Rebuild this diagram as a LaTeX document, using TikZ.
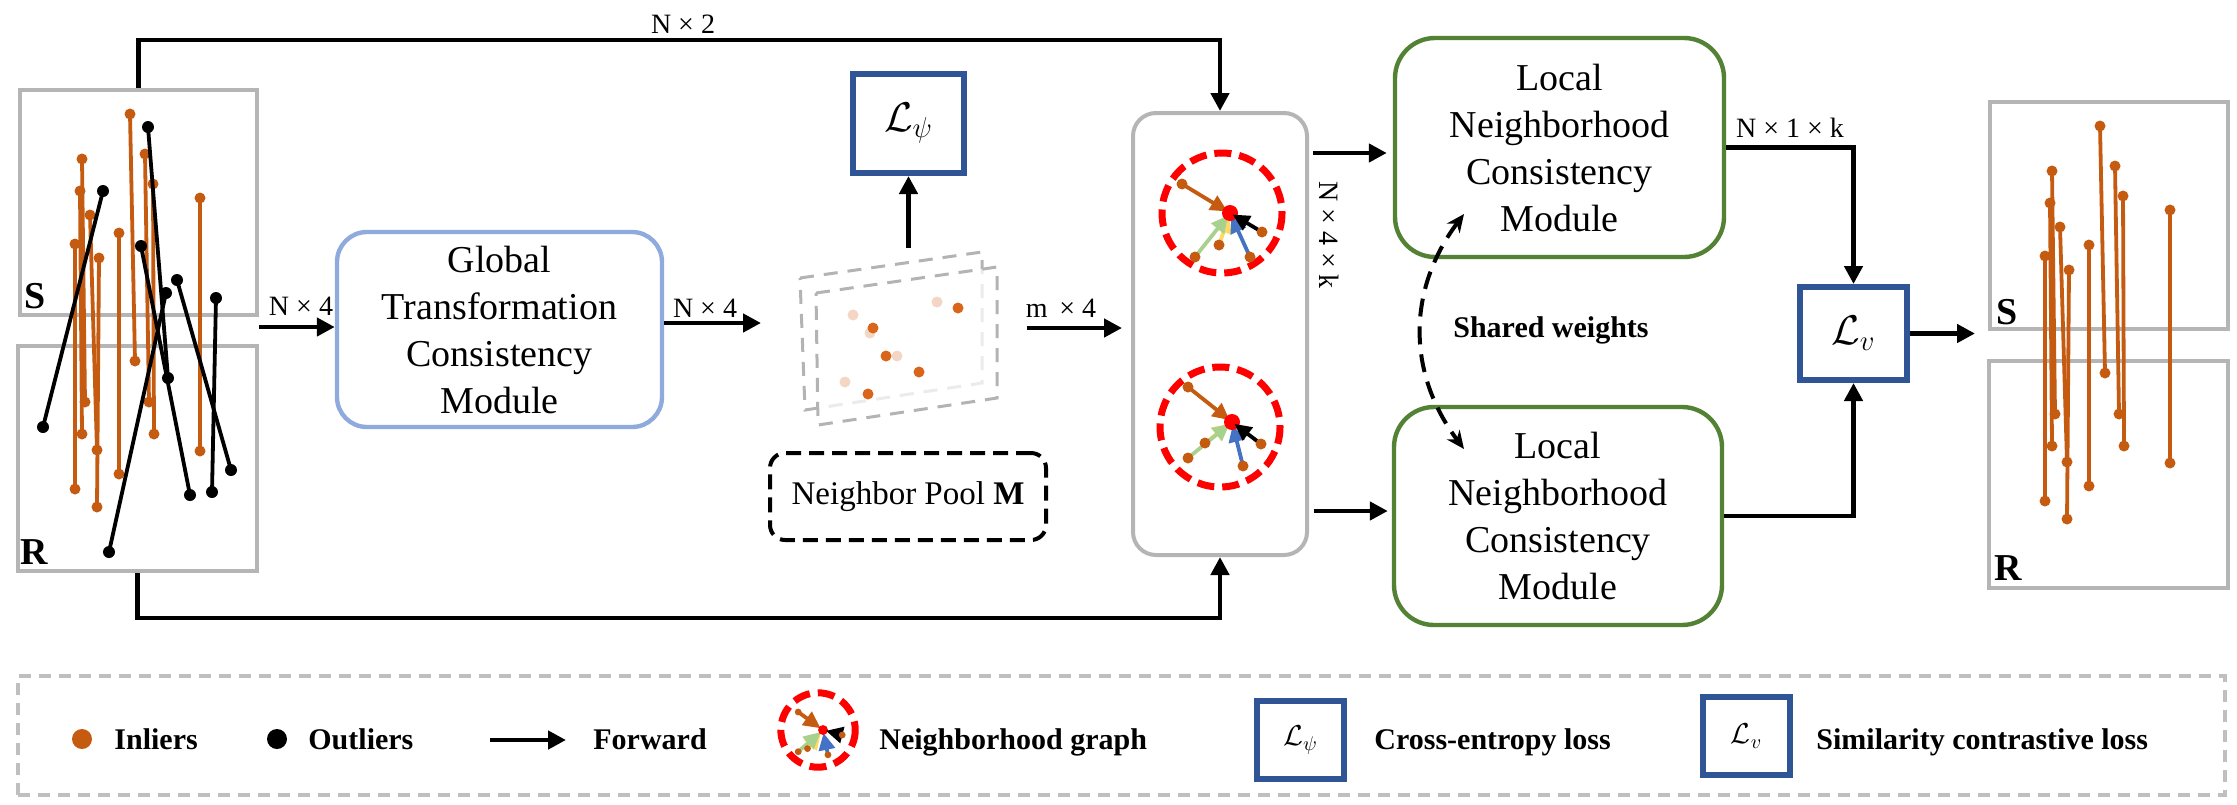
\documentclass[tikz,border=0pt]{standalone}
\usepackage{fontspec}
\setmainfont{Liberation Serif}
\usetikzlibrary{arrows.meta,calc}
\definecolor{inl}{HTML}{C55A11}
\definecolor{pgray}{HTML}{B5B5B5}
\definecolor{lgray}{HTML}{BFBFBF}
\definecolor{lblue}{HTML}{2F5597}
\definecolor{gtcblue}{HTML}{8FAADC}
\definecolor{lgreen}{HTML}{548235}
\definecolor{agreen}{HTML}{A9D18E}
\definecolor{ayellow}{HTML}{FFD966}
\definecolor{ablue}{HTML}{4472C4}
\definecolor{poolor}{HTML}{D9651A}
\definecolor{poollt}{HTML}{F4D6C4}
\definecolor{planec}{HTML}{B3B3B3}

% neighbourhood graph: #1 orange, #2 green, #3 yellow, #4 blue, #5 black, #6 ring centre
\newcommand{\nbgdraw}[6]{%
  \draw[red, line width=3.5pt, dash pattern=on 8.5pt off 4pt] (#6) circle[radius=60];
  \draw[ga, ayellow] (#3) -- (0,0);
  \draw[ga, agreen] (#2) -- (0,0);
  \draw[ga, ablue] (#4) -- (0,0);
  \draw[ga, inl] (#1) -- (0,0);
  \fill[red] (0,0) circle[radius=8];
  \draw[ga, black] (#5) -- (0,0);
  \fill[inl] (#1) circle[radius=5.5];
  \fill[inl] (#2) circle[radius=5.5];
  \fill[inl] (#3) circle[radius=5.5];
  \fill[inl] (#4) circle[radius=5.5];
  \fill[inl] (#5) circle[radius=5.5];
}
\newcommand{\inlierset}{%
  \foreach \a/\b/\c/\d in {110/24/115/271, 62/69/65/312, 60/101/62/344, 70/125/77/360,
      55/154/55/399, 79/168/77/417, 99/143/99/384, 125/64/129/312, 133/94/134/344, 180/108/180/361}{
    \draw[inline] (\a,\b) -- (\c,\d);
    \fill[inl] (\a,\b) circle[radius=5.5];
    \fill[inl] (\c,\d) circle[radius=5.5];
  }%
}

\begin{document}
\begin{tikzpicture}[x=0.5pt,y=-0.5pt,
  conn/.style={line width=2.4pt,-{Triangle[length=9pt,width=9pt]}},
  ga/.style={line width=1.9pt,-{Triangle[length=8.5pt,width=8pt]},shorten >=1.5pt},
  inline/.style={inl,line width=1.9pt},
  outline/.style={black,line width=1.9pt},
  panel/.style={draw=pgray,line width=2.3pt,inner sep=0pt},
  mod/.style={draw,line width=2.2pt,align=center,inner sep=0pt,font=\fontsize{19}{23.5}\selectfont},
  lbox/.style={draw=lblue,line width=3pt,inner sep=0pt},
  dimlbl/.style={font=\fontsize{14}{16}\selectfont,inner sep=0pt},
  pl/.style={font=\bfseries\fontsize{19}{22}\selectfont,inner sep=0pt,anchor=base west},
  legtxt/.style={font=\bfseries\fontsize{15}{18}\selectfont,inner sep=0pt,anchor=base west},
  plane/.style={draw=planec,line width=1.5pt,dash pattern=on 7pt off 5pt}
]
\useasboundingbox (0,0) rectangle (2237,804);

% ---------- left panels ----------
\node[panel,minimum width=118.5pt,minimum height=112.5pt] (lS) at (138.5,202.5) {};
\node[panel,minimum width=119.5pt,minimum height=112.5pt] (lR) at (137.5,458.5) {};
\node[pl] (lSt) at ($(lS.south west)+(6,-9)$) {S};
\node[pl] (lRt) at ($(lR.south west)+(4,-9)$) {R};
\begin{scope}[shift={(20,90)}]
  \inlierset
\end{scope}
\foreach \a/\b/\c/\d in {148/127/168/378, 103/191/43/427, 141/246/190/495,
    166/293/109/552, 177/280/231/470, 216/298/212/492}{
  \draw[outline] (\a,\b) -- (\c,\d);
  \fill (\a,\b) circle[radius=6];
  \fill (\c,\d) circle[radius=6];
}

% ---------- right panels ----------
\node[panel,minimum width=119pt,minimum height=113.5pt] (rS) at (2109,215.5) {};
\node[panel,minimum width=119.5pt,minimum height=113.5pt] (rR) at (2108.5,474.5) {};
\node[pl] (rSt) at ($(rS.south west)+(8,-7)$) {S};
\node[pl] (rRt) at ($(rR.south west)+(7,-10)$) {R};
\begin{scope}[shift={(1990,102)}]
  \inlierset
\end{scope}

% ---------- GTC module ----------
\node[mod,draw=gtcblue,rounded corners=15pt,minimum width=162.5pt,minimum height=97.5pt] (gtcm) at (499.5,329.5)
  {Global\\Transformation\\Consistency\\Module};

% ---------- neighbour pool ----------
\draw[plane] (800,278) -- (982,252) -- (982,383) -- (805,410) -- cycle;
\draw[plane,fill=white,fill opacity=0.75] (816,293) -- (997,267) -- (997,398) -- (818,425) -- cycle;
\foreach \p in {(937,302),(853,315),(870,333),(897,356),(845,382)} \fill[poollt] \p circle[radius=5.5];
\foreach \p in {(958,308),(873,328),(886,356),(919,372),(868,394)} \fill[poolor] \p circle[radius=5.5];
\node[draw,line width=2pt,dash pattern=on 7.5pt off 4pt,rounded corners=7.5pt,minimum width=138pt,minimum height=43.5pt,
  inner sep=0pt,font=\fontsize{16.5}{20}\selectfont] (poolbox) at (908,496.5) {Neighbor Pool \textbf{M}};
\node[lbox,minimum width=55.5pt,minimum height=49.5pt,font=\fontsize{20}{24}\selectfont] (lpsi) at (908.5,123.5) {$\mathcal{L}_\psi$};

% ---------- middle graph box ----------
\node[draw=pgray,rounded corners=11.5pt,line width=2pt,minimum width=87pt,minimum height=221pt,inner sep=0pt] (mid) at (1220,334) {};
\begin{scope}[shift={(1230,213)}]
  \nbgdraw{-48,-29}{-35,44}{-11,32}{20,44}{32,19}{-8,0}
\end{scope}
\begin{scope}[shift={(1232,422)}]
  \nbgdraw{-44,-35}{-44,36}{-27,21}{11,44}{29,22}{-12,5}
\end{scope}
\node[dimlbl,rotate=-90] (n4k) at (1329,235) {N × 4 × k};

% ---------- local modules ----------
\node[mod,draw=lgreen,rounded corners=20pt,minimum width=164.5pt,minimum height=109.5pt] (lnc1) at (1559.5,147.5)
  {Local\\Neighborhood\\Consistency\\Module};
\node[mod,draw=lgreen,rounded corners=20pt,minimum width=164pt,minimum height=109pt] (lnc2) at (1558,516)
  {Local\\Neighborhood\\Consistency\\Module};
\node[lbox,minimum width=53.5pt,minimum height=46.5pt,font=\fontsize{20}{24}\selectfont] (lv) at (1853.5,333.5) {$\mathcal{L}_v$};

% ---------- connectors ----------
\coordinate (topL) at (138.5,40);
\coordinate (botL) at (137.5,618);
\draw[conn] (lS.north) -- (topL) -| (mid.north);
\draw[conn] (lR.south) -- (botL) -| (mid.south);
\node[dimlbl,anchor=base] (n2) at (683,33) {N × 2};

\coordinate (pin) at (259,327);
\draw[conn] (pin) -- (pin -| gtcm.west);
\node[dimlbl,anchor=base] (n4a) at (301,315) {N × 4};

\coordinate (poolin) at (761,323);
\draw[conn] (poolin -| gtcm.east) -- (poolin);
\node[dimlbl,anchor=base] (n4b) at (705,317) {N × 4};

\coordinate (poolout) at (1027,328);
\draw[conn,shorten >=4.5pt] (poolout) -- (poolout -| mid.west);
\node[dimlbl,anchor=base] (m4) at (1061,317) {m\, × 4};

\coordinate (pooltop) at (908.5,248);
\draw[conn] (pooltop) -- (lpsi.south);

\coordinate (m1) at (1313,153);
\coordinate (m2) at (1314,511);
\draw[conn,shorten >=3pt] (m1) -- (m1 -| lnc1.west);
\draw[conn,shorten >=2pt] (m2) -- (m2 -| lnc2.west);

\draw[conn] (lnc1.east) -| (lv.north);
\draw[conn] (lnc2.east) -| (lv.south);
\node[dimlbl,anchor=base] (n1k) at (1790,137) {N × 1 × k};

\coordinate (rin) at (1975,333.5);
\draw[conn] (lv.east) -- (rin);

\coordinate (sw1) at (1464,214);
\coordinate (sw2) at (1464,449);
\draw[line width=2pt,dash pattern=on 9pt off 5pt,{Stealth[length=9pt,width=8pt]}-{Stealth[length=9pt,width=8pt]}]
  (sw1) .. controls (1407,290) and (1407,373) .. (sw2);
\node[font=\bfseries\fontsize{15}{18}\selectfont,inner sep=0pt] (swl) at (1551,330) {Shared weights};

% ---------- legend ----------
\node[draw=lgray,dash pattern=on 6pt off 4pt,line width=2pt,minimum width=1103.5pt,minimum height=59.5pt,inner sep=0pt] (leg) at (1121.5,735.5) {};
\node[circle,fill=inl,minimum size=10pt,inner sep=0pt] (ldot1) at (82,739) {};
\node[legtxt] (t1) at (114,749) {Inliers};
\node[circle,fill=black,minimum size=10pt,inner sep=0pt] (ldot2) at (277,739) {};
\node[legtxt] (t2) at (308,749) {Outliers};
\coordinate (fw1) at (490,740);
\coordinate (fw2) at (566,740);
\draw[conn] (fw1) -- (fw2);
\node[legtxt] (t3) at (593,749) {Forward};
\begin{scope}[shift={(823,730)},scale=0.62]
  \nbgdraw{-40,-29}{-40,35}{-25,30}{8,40}{31,8}{-8,0}
\end{scope}
\node[legtxt] (t4) at (879,749) {Neighborhood graph};
\node[lbox,minimum width=43.5pt,minimum height=39pt,font=\fontsize{14.5}{17}\selectfont] (legpsi) at (1300.5,740) {$\mathcal{L}_\psi$};
\node[legtxt] (t5) at (1374,749) {Cross-entropy loss};
\node[lbox,minimum width=43.5pt,minimum height=39pt,font=\fontsize{14.5}{17}\selectfont] (leglv) at (1746.5,736) {$\mathcal{L}_v$};
\node[legtxt] (t6) at (1816,749) {Similarity contrastive loss};
\end{tikzpicture}
\end{document}
